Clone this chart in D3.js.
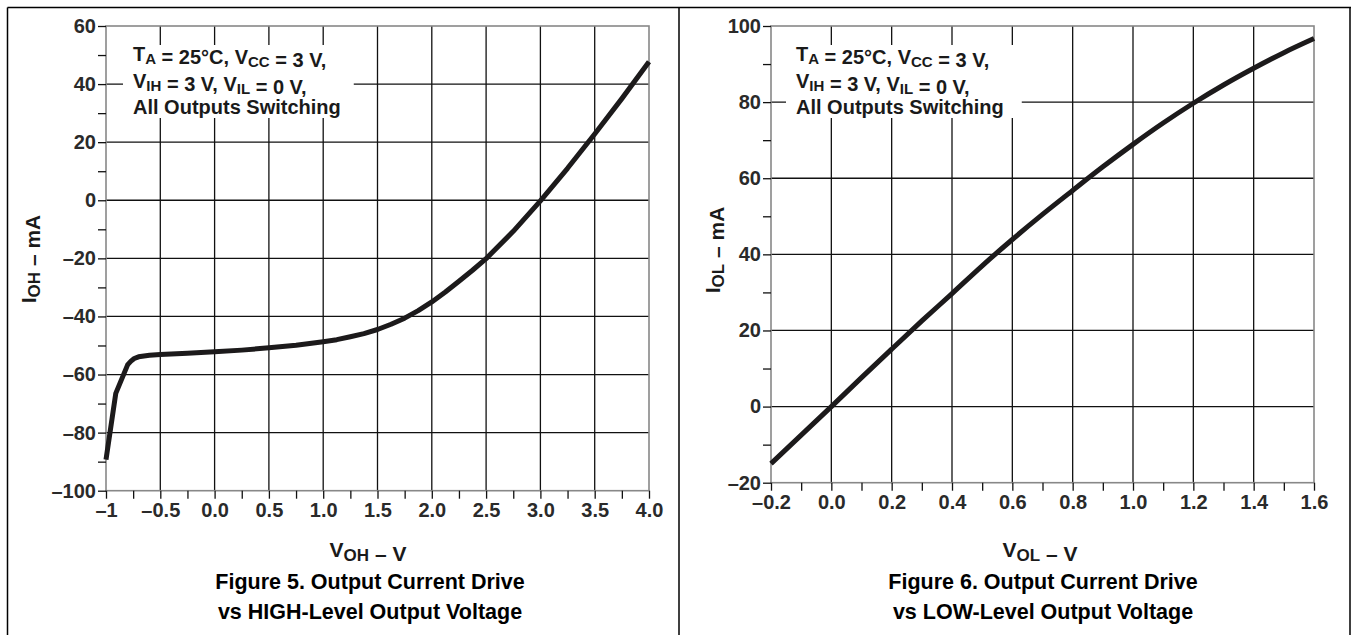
<!DOCTYPE html>
<html>
<head>
<meta charset="utf-8">
<script src="https://cdn.jsdelivr.net/npm/d3@7"></script>
<style>
  body { margin: 0; background: #fff; }
  text { font-family: "Liberation Sans", Arial, Helvetica, sans-serif; font-weight: bold; }
</style>
</head>
<body>
<svg id="chart" width="1351" height="635"></svg>
<script>

// ---- Figure 5 : I_OH vs V_OH ----
var fig5_volts   = [-1.0, -0.91, -0.8, -0.77, -0.74, -0.7, -0.65, -0.6, -0.5, -0.25, 0.0, 0.25, 0.5, 0.75, 1.0, 1.125, 1.25, 1.375, 1.5, 1.625, 1.75, 1.875, 2.0, 2.125, 2.25, 2.375, 2.5, 2.75, 3.0, 3.25, 3.5, 3.75, 4.0]
var fig5_current = [-89.3, -66.5, -56.6, -55.4, -54.5, -53.9, -53.6, -53.4, -53.1, -52.7, -52.2, -51.6, -50.8, -49.9, -48.7, -48.0, -47.0, -45.9, -44.5, -42.7, -40.6, -38.0, -35.0, -31.6, -27.9, -24.1, -20.1, -10.7, -0.2, 11.0, 22.8, 35.0, 47.7]
var fig5_xticks  = [-1, -0.75, -0.5, -0.25, 0, 0.25, 0.5, 0.75, 1, 1.25, 1.5, 1.75, 2, 2.25, 2.5, 2.75, 3, 3.25, 3.5, 3.75, 4]
var fig5_xgrid   = [-0.5, 0, 0.5, 1, 1.5, 2, 2.5, 3, 3.5]
var fig5_xlabels = {"-1": "\u20131", "-0.5": "\u20130.5", "0": "0.0", "0.5": "0.5", "1": "1.0", "1.5": "1.5", "2": "2.0", "2.5": "2.5", "3": "3.0", "3.5": "3.5", "4": "4.0"}
var fig5_yticks  = [-100, -90, -80, -70, -60, -50, -40, -30, -20, -10, 0, 10, 20, 30, 40, 50, 60]
var fig5_ygrid   = [-80, -60, -40, -20, 0, 20, 40]
var fig5_ylabels = {"-100": "\u2013100", "-80": "\u201380", "-60": "\u201360", "-40": "\u201340", "-20": "\u201320", "0": "0", "20": "20", "40": "40", "60": "60"}

// ---- Figure 6 : I_OL vs V_OL ----
var fig6_volts   = [-0.2, -0.1, 0.0, 0.1, 0.2, 0.3, 0.4, 0.5, 0.6, 0.7, 0.8, 0.9, 1.0, 1.1, 1.2, 1.3, 1.4, 1.5, 1.6]
var fig6_current = [-15.0, -7.5, 0.0, 7.6, 15.1, 22.5, 29.7, 37.0, 43.9, 50.5, 56.8, 63.0, 68.9, 74.5, 79.7, 84.5, 88.9, 93.0, 96.7]
var fig6_xticks  = [-0.2, -0.1, 0, 0.1, 0.2, 0.3, 0.4, 0.5, 0.6, 0.7, 0.8, 0.9, 1.0, 1.1, 1.2, 1.3, 1.4, 1.5, 1.6]
var fig6_xgrid   = [0, 0.2, 0.4, 0.6, 0.8, 1.0, 1.2, 1.4]
var fig6_xlabels = {"-0.2": "\u20130.2", "0": "0.0", "0.2": "0.2", "0.4": "0.4", "0.6": "0.6", "0.8": "0.8", "1": "1.0", "1.2": "1.2", "1.4": "1.4", "1.6": "1.6"}
var fig6_yticks  = [-20, -10, 0, 10, 20, 30, 40, 50, 60, 70, 80, 90, 100]
var fig6_ygrid   = [0, 20, 40, 60, 80]
var fig6_ylabels = {"-20": "\u201320", "0": "0", "20": "20", "40": "40", "60": "60", "80": "80", "100": "100"}

var note_lines = [
    [["T"], ["A", 1], [" = 25\u00b0C, V"], ["CC", 1], [" = 3 V,"]],
    [["V"], ["IH", 1], [" = 3 V, V"], ["IL", 1], [" = 0 V,"]],
    [["All Outputs Switching"]]
]

var svg = d3.select("#chart")

// outer frame of the two figures
var frame = svg.append("g").attr("stroke", "#000").attr("stroke-width", 1.5)
frame.append("line").attr("x1", 7.5).attr("x2", 1351).attr("y1", 7.5).attr("y2", 7.5)
frame.append("line").attr("x1", 7.5).attr("x2", 7.5).attr("y1", 7.5).attr("y2", 635)
frame.append("line").attr("x1", 679).attr("x2", 679).attr("y1", 7.5).attr("y2", 635)
frame.append("line").attr("x1", 1350).attr("x2", 1350).attr("y1", 7.5).attr("y2", 635)

function rich(sel, parts, subSize, drop) {
    parts.forEach(function(p) {
        if (p[1]) {
            sel.append("tspan").attr("dy", drop).attr("font-size", subSize).text(p[0])
            sel.append("tspan").attr("dy", -drop).text("")
        } else {
            sel.append("tspan").text(p[0])
        }
    })
}

function draw_panel(cfg) {
    var x = d3.scaleLinear().domain(cfg.xdomain).range([cfg.left, cfg.right])
    var y = d3.scaleLinear().domain(cfg.ydomain).range([cfg.bottom, cfg.top])
    var g = svg.append("g")

    // grid
    g.selectAll(".vg").data(cfg.xgrid).enter().append("line")
        .attr("x1", function(d) { return x(d) }).attr("x2", function(d) { return x(d) })
        .attr("y1", cfg.top).attr("y2", cfg.bottom)
        .attr("stroke", "#111").attr("stroke-width", 1.3)
    g.selectAll(".hg").data(cfg.ygrid).enter().append("line")
        .attr("y1", function(d) { return y(d) }).attr("y2", function(d) { return y(d) })
        .attr("x1", cfg.left).attr("x2", cfg.right)
        .attr("stroke", "#111").attr("stroke-width", 1.3)

    // plot frame
    g.append("rect")
        .attr("x", cfg.left).attr("y", cfg.top)
        .attr("width", cfg.right - cfg.left).attr("height", cfg.bottom - cfg.top)
        .attr("fill", "none").attr("stroke", "#888").attr("stroke-width", 1.6)

    // note with white knock-out behind it
    var note = g.append("g")
    var bg = note.append("rect").attr("fill", "#fff")
    note_lines.forEach(function(line, i) {
        var t = note.append("text")
            .attr("x", cfg.noteX).attr("y", 61 + i * 26.5)
            .attr("font-size", 20).attr("fill", "#1a1a1a")
        rich(t, line, 15, 3)
    })
    var bb = note.node().getBBox()
    bg.attr("x", bb.x - 10).attr("y", bb.y + 2).attr("width", bb.width + cfg.notePad).attr("height", bb.height - 2)

    // axes
    var ax = d3.axisBottom(x).tickValues(cfg.xticks).tickSize(8).tickPadding(4)
        .tickFormat(function(d) { var k = String(+d.toFixed(2)); return cfg.xlabels[k] || "" })
    var gx = g.append("g").attr("transform", "translate(0," + cfg.bottom + ")").call(ax)
    var ay = d3.axisLeft(y).tickValues(cfg.yticks).tickSize(8).tickPadding(2)
        .tickFormat(function(d) { return cfg.ylabels[String(d)] || "" })
    var gy = g.append("g").attr("transform", "translate(" + cfg.left + ",0)").call(ay)
    ;[gx, gy].forEach(function(a) {
        a.select(".domain").remove()
        a.selectAll(".tick line").attr("stroke", "#111").attr("stroke-width", 1.3)
        a.selectAll(".tick text").attr("font-size", 20).attr("fill", "#2a2a2a")
            .style("font-family", "'Liberation Sans', Arial, sans-serif").style("font-weight", "bold")
    })

    // curve
    var line = d3.line()
        .x(function(d) { return x(d[0]) })
        .y(function(d) { return y(d[1]) })
        .curve(cfg.curve)
    g.append("path")
        .attr("d", line(d3.zip(cfg.volts, cfg.current)))
        .attr("fill", "none")
        .attr("stroke", "#1c1a1b")
        .attr("stroke-width", 5)
        .attr("stroke-linejoin", "round")

    // axis titles
    var xt = g.append("text").attr("x", cfg.xTitleX).attr("y", 557)
        .attr("text-anchor", "middle").attr("font-size", 21).attr("fill", "#1a1a1a")
    rich(xt, [["V"], [cfg.xsub, 1], [" \u2013 V"]], 17, 4)
    var yt = g.append("text")
        .attr("transform", "translate(" + cfg.yTitleX + "," + cfg.yTitleY + ") rotate(-90)")
        .attr("text-anchor", "middle").attr("font-size", 21).attr("fill", "#1a1a1a")
    rich(yt, [["I"], [cfg.ysub, 1], [" \u2013 mA"]], 17, 4)

    // caption
    cfg.caption.forEach(function(c, i) {
        g.append("text").attr("x", cfg.captionX).attr("y", 589 + i * 30)
            .attr("text-anchor", "middle").attr("font-size", 21.5).attr("fill", "#000")
            .text(c)
    })
}

draw_panel({
    left: 106, right: 649, top: 26, bottom: 490.7,
    xdomain: [-1, 4], ydomain: [-100, 60],
    xticks: fig5_xticks, xgrid: fig5_xgrid, xlabels: fig5_xlabels,
    yticks: fig5_yticks, ygrid: fig5_ygrid, ylabels: fig5_ylabels,
    volts: fig5_volts, current: fig5_current, curve: d3.curveLinear,
    noteX: 133, notePad: 23, xsub: "OH", ysub: "OH",
    xTitleX: 368, yTitleX: 36, yTitleY: 259,
    captionX: 370,
    caption: ["Figure 5. Output Current Drive", "vs HIGH-Level Output Voltage"]
})

draw_panel({
    left: 771, right: 1314, top: 26, bottom: 482.7,
    xdomain: [-0.2, 1.6], ydomain: [-20, 100],
    xticks: fig6_xticks, xgrid: fig6_xgrid, xlabels: fig6_xlabels,
    yticks: fig6_yticks, ygrid: fig6_ygrid, ylabels: fig6_ylabels,
    volts: fig6_volts, current: fig6_current, curve: d3.curveMonotoneX,
    noteX: 796, notePad: 28, xsub: "OL", ysub: "OL",
    xTitleX: 1040, yTitleX: 720, yTitleY: 250,
    captionX: 1043,
    caption: ["Figure 6. Output Current Drive", "vs LOW-Level Output Voltage"]
})

</script>
</body>
</html>
